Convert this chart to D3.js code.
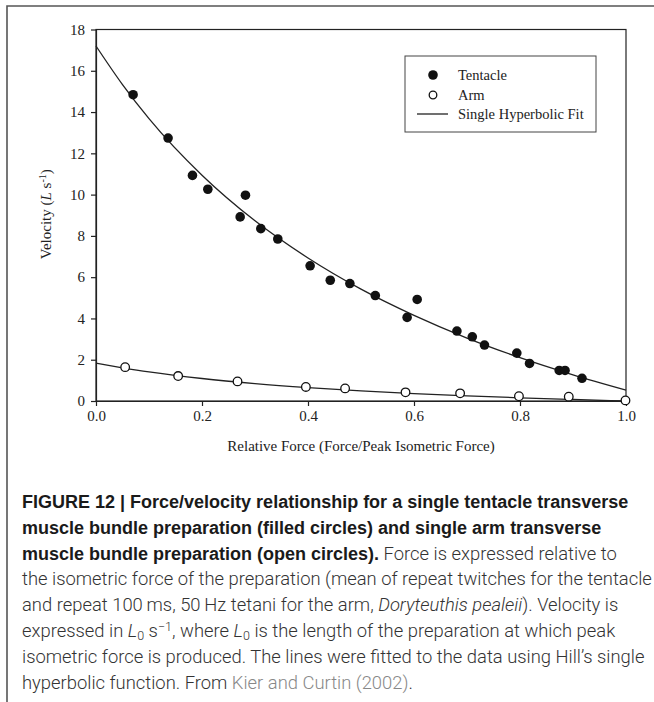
<!DOCTYPE html>
<html>
<head>
<meta charset="utf-8">
<script src="https://cdn.jsdelivr.net/npm/d3@7"></script>
<style>
  body { margin: 0; background: #fff; }
  svg { display: block; }
</style>
</head>
<body>
<div id="chart"></div>
<script>
// tentacle points (relative force, velocity L/s)
var tentacleX = [0.070, 0.136, 0.182, 0.211, 0.272, 0.282, 0.311, 0.343, 0.404, 0.442, 0.479, 0.527, 0.587, 0.606, 0.681, 0.710, 0.733, 0.794, 0.818, 0.874, 0.885, 0.917];
var tentacleY = [14.84, 12.74, 10.93, 10.26, 8.92, 9.97, 8.35, 7.85, 6.55, 5.85, 5.69, 5.11, 4.05, 4.92, 3.39, 3.11, 2.71, 2.32, 1.82, 1.48, 1.48, 1.10];
// arm points
var armX = [0.055, 0.155, 0.267, 0.396, 0.470, 0.584, 0.687, 0.798, 0.892, 0.999];
var armY = [1.64, 1.21, 0.95, 0.68, 0.61, 0.42, 0.37, 0.23, 0.21, 0.03];
var fitX = [0, 0.05, 0.1, 0.2, 0.3, 0.4, 0.5, 0.6, 0.7, 0.8, 0.9, 1.0];
var tentacleFit = [17.2, 15.33, 13.68, 10.94, 8.73, 6.93, 5.42, 4.15, 3.05, 2.10, 1.27, 0.53];
var armFit = [1.83, 1.61, 1.41, 1.09, 0.845, 0.651, 0.492, 0.360, 0.249, 0.154, 0.072, 0.0];

var xTicks = [0, 0.2, 0.4, 0.6, 0.8, 1.0];
var yTicks = [0, 2, 4, 6, 8, 10, 12, 14, 16, 18];
var legendLabels = ["Tentacle", "Arm", "Single Hyperbolic Fit"];

var captionLines = [
  [["b", "FIGURE 12 | Force/velocity relationship for a single tentacle transverse"]],
  [["b", "muscle bundle preparation (filled circles) and single arm transverse"]],
  [["b", "muscle bundle preparation (open circles)."], ["n", " Force is expressed relative to"]],
  [["n", "the isometric force of the preparation (mean of repeat twitches for the tentacle"]],
  [["n", "and repeat 100\u2009ms, 50\u2009Hz tetani for the arm, "], ["i", "Doryteuthis pealeii"], ["n", "). Velocity is"]],
  [["n", "expressed in "], ["i", "L"], ["sub", "0"], ["n", " s"], ["sup", "\u22121"], ["n", ", where "], ["i", "L"], ["sub", "0"], ["n", " is the length of the preparation at which peak"]],
  [["n", "isometric force is produced. The lines were fitted to the data using Hill\u2019s single"]],
  [["n", "hyperbolic function. From "], ["link", "Kier and Curtin (2002)"], ["n", "."]]
];

var W = 654, H = 702;
var margin = {top: 29.5, left: 96, right: 28, bottom: 301};
var width = W - margin.left - margin.right,
    height = H - margin.top - margin.bottom;

var svg = d3.select("#chart").append("svg")
  .attr("width", W)
  .attr("height", H);

// outer frame (top + left rule)
svg.append("path")
  .attr("d", "M7,702 V6 H654")
  .attr("fill", "none")
  .attr("stroke", "#555")
  .attr("stroke-width", 1.6);

var g = svg.append("g")
  .attr("transform", "translate(" + margin.left + "," + margin.top + ")");

var x = d3.scaleLinear().domain([0, 1]).range([0, width]);
var y = d3.scaleLinear().domain([0, 18]).range([height, 0]);

var serif = "'Liberation Serif', 'Times New Roman', serif";

// box
g.append("rect")
  .attr("width", width).attr("height", height)
  .attr("fill", "none").attr("stroke", "#222").attr("stroke-width", 1.2);

var xAxis = g.append("g")
  .attr("transform", "translate(0," + height + ")")
  .call(d3.axisBottom(x).tickValues(xTicks).tickFormat(d3.format(".1f")).tickSize(5).tickSizeOuter(0).tickPadding(4));
var yAxis = g.append("g")
  .call(d3.axisLeft(y).tickValues(yTicks).tickSize(5).tickSizeOuter(0).tickPadding(6));
[xAxis, yAxis].forEach(function (a) {
  a.select(".domain").attr("stroke", "#222").attr("stroke-width", 1.2);
  a.selectAll(".tick line").attr("stroke", "#222").attr("stroke-width", 1.2);
  a.selectAll("text").attr("font-family", serif).attr("font-size", 15).attr("fill", "#222");
});

// axis titles
g.append("text")
  .attr("x", width / 2).attr("y", height + 50)
  .attr("text-anchor", "middle")
  .attr("font-family", serif).attr("font-size", 15).attr("fill", "#222")
  .text("Relative Force (Force/Peak Isometric Force)");

var yl = g.append("text")
  .attr("transform", "translate(-45," + (height / 2 - 1) + ") rotate(-90)")
  .attr("text-anchor", "middle")
  .attr("font-family", serif).attr("font-size", 15).attr("fill", "#222");
yl.append("tspan").text("Velocity (");
yl.append("tspan").attr("font-style", "italic").text("L");
yl.append("tspan").text(" s");
yl.append("tspan").attr("baseline-shift", "super").attr("font-size", 10).text("-1");
yl.append("tspan").text(")");

// fit lines
var line = d3.line().curve(d3.curveMonotoneX);
[tentacleFit, armFit].forEach(function (vals) {
  g.append("path")
    .attr("d", line(fitX.map(function (d, i) { return [x(d), y(vals[i])]; })))
    .attr("fill", "none").attr("stroke", "#222").attr("stroke-width", 1.3);
});

// points
g.append("g").selectAll("circle")
  .data(tentacleX)
  .enter().append("circle")
  .attr("cx", function (d) { return x(d); })
  .attr("cy", function (d, i) { return y(tentacleY[i]); })
  .attr("r", 4.8)
  .attr("fill", "#111");

g.append("g").selectAll("circle")
  .data(armX)
  .enter().append("circle")
  .attr("cx", function (d) { return x(d); })
  .attr("cy", function (d, i) { return y(armY[i]); })
  .attr("r", 4.3)
  .attr("fill", "#fff").attr("stroke", "#111").attr("stroke-width", 1.3);

// legend
var lg = svg.append("g").attr("transform", "translate(405,56)");
lg.append("rect").attr("width", 191).attr("height", 76)
  .attr("fill", "#fff").attr("stroke", "#444").attr("stroke-width", 1);
lg.append("circle").attr("cx", 28).attr("cy", 19).attr("r", 4.8).attr("fill", "#111");
lg.append("circle").attr("cx", 28).attr("cy", 39).attr("r", 3.8)
  .attr("fill", "#fff").attr("stroke", "#111").attr("stroke-width", 1.3);
lg.append("line").attr("x1", 12).attr("x2", 43).attr("y1", 58).attr("y2", 58)
  .attr("stroke", "#222").attr("stroke-width", 1.3);
lg.selectAll("text.lab").data(legendLabels).enter().append("text")
  .attr("class", "lab")
  .attr("x", 53)
  .attr("y", function (d, i) { return 24 + i * 19.5; })
  .attr("font-family", serif).attr("font-size", 14.5).attr("fill", "#222")
  .text(function (d) { return d; });

// caption
var boldFont = "'Liberation Sans', Arial, sans-serif";
var bodyFont = "Roboto, 'Liberation Sans', Arial, sans-serif";
var cap = svg.append("g").attr("font-family", bodyFont).attr("font-size", 18.4);
captionLines.forEach(function (segs, li) {
  var t = cap.append("text").attr("x", 22).attr("y", 508 + li * 25.8);
  var shift = 0;
  segs.forEach(function (s) {
    var ts = t.append("tspan").text(s[1]);
    if (s[0] === "b") ts.attr("font-family", boldFont).attr("font-size", 18).attr("font-weight", 700).attr("fill", "#1a1a1a");
    else if (s[0] === "link") ts.attr("font-weight", 300).attr("fill", "#888");
    else ts.attr("font-weight", 300).attr("fill", "#333");
    if (s[0] === "i") ts.attr("font-style", "italic");
    // sub/superscripts shifted with dy, then put back on the next piece
    var want = s[0] === "sub" ? 3 : s[0] === "sup" ? -6 : 0;
    if (want !== shift) { ts.attr("dy", want - shift); shift = want; }
    if (want !== 0) ts.attr("font-size", 12.5);
  });
});
</script>
</body>
</html>
